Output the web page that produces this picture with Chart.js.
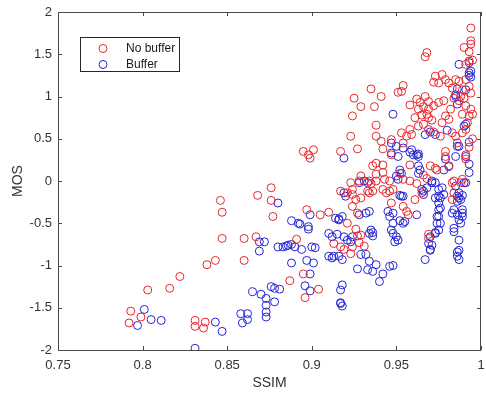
<!DOCTYPE html>
<html>
<head>
<meta charset="utf-8">
<script src="https://cdn.jsdelivr.net/npm/chart.js@4/dist/chart.umd.min.js"></script>
<style>
  html, body { margin: 0; padding: 0; background: #fff; overflow: hidden; }
  #wrap { width: 486px; height: 396px; position: relative; }
</style>
</head>
<body>
<div id="wrap"><canvas id="chart"></canvas></div>
<script>
// axis ticks
const ssimTicks = [0.75, 0.8, 0.85, 0.9, 0.95, 1];
const mosTicks = [-2, -1.5, -1, -0.5, 0, 0.5, 1, 1.5, 2];

// No buffer (red)
const noBufferSsim = [
  0.846, 0.847, 0.847, 0.860, 0.860, 0.843, 0.838, 0.822, 0.816, 0.803,
  0.793, 0.792, 0.799, 0.831, 0.831, 0.837, 0.836, 0.868, 0.876, 0.877,
  0.867, 0.891, 0.897, 0.905, 0.910, 0.887, 0.895, 0.904, 0.896, 0.913,
  0.921, 0.924, 0.927, 0.928, 0.931, 0.923, 0.926, 0.919, 0.969, 0.969,
  0.924, 0.927, 0.926, 0.929, 0.929, 0.917, 0.876, 0.994, 0.994, 0.994,
  0.990, 0.993, 0.968, 0.967, 0.993, 0.995, 0.991, 0.973, 0.977, 0.979,
  0.975, 0.972, 0.981, 0.985, 0.987, 0.991, 0.993, 0.989, 0.983, 0.994,
  0.951, 0.954, 0.953, 0.935, 0.925, 0.929, 0.924, 0.937, 0.941, 0.962,
  0.964, 0.967, 0.969, 0.966, 0.969, 0.972, 0.975, 0.963, 0.968, 0.969,
  0.965, 0.938, 0.938, 0.923, 0.927, 0.941, 0.947, 0.942, 0.947, 0.953,
  0.956, 0.954, 0.958, 0.959, 0.963, 0.966, 0.969, 0.972, 0.979, 0.981,
  0.977, 0.976, 0.983, 0.985, 0.989, 0.991, 0.989, 0.993, 0.994, 0.991,
  0.995, 0.992, 0.991, 0.991, 0.979, 0.979, 0.974, 0.981, 0.984, 0.989,
  0.970, 0.973, 0.966, 0.968, 0.958, 0.952, 0.954, 0.958, 0.962, 0.936,
  0.938, 0.942, 0.938, 0.942, 0.943, 0.946, 0.938, 0.923, 0.924, 0.929,
  0.928, 0.934, 0.935, 0.917, 0.921, 0.924, 0.933, 0.934, 0.936, 0.942,
  0.944, 0.946, 0.895, 0.898, 0.901, 0.899, 0.917, 0.948, 0.947, 0.954,
  0.956, 0.957, 0.961, 0.965, 0.983, 0.984, 0.983, 0.988, 0.987, 0.990,
  0.986, 0.993, 0.995, 0.982, 0.958, 0.961, 0.971, 0.978, 0.984, 0.988
];
const noBufferMos = [
  -0.23, -0.37, -0.68, -0.68, -0.94, -0.94, -0.99, -1.13, -1.27, -1.29,
  -1.54, -1.68, -1.61, -1.65, -1.72, -1.67, -1.74, -0.17, -0.23, -0.42,
  -0.66, -0.69, -0.34, -0.40, -0.37, -1.18, -1.10, -1.28, -1.38, -0.74,
  -0.50, -0.78, -0.65, -0.73, -0.77, -0.86, -0.57, -0.81, -0.63, -0.68,
  -0.30, -0.38, -0.22, -0.20, -0.64, -0.78, -0.08, 1.81, 1.66, 1.62,
  1.58, 1.53, 1.52, 1.47, 1.42, 1.43, 1.38, 1.24, 1.26, 1.20,
  1.16, 1.17, 1.16, 1.20, 1.18, 1.20, 1.12, 1.08, 1.10, 1.04,
  1.05, 1.13, 1.06, 1.09, 0.98, 0.88, 0.77, 0.88, 1.00, 0.97,
  0.93, 1.00, 0.94, 0.88, 0.85, 0.89, 0.93, 0.85, 0.79, 0.75,
  0.78, 0.66, 0.53, 0.53, 0.38, 0.47, 0.49, 0.38, 0.31, 0.57,
  0.53, 0.45, 0.61, 0.55, 0.65, 0.67, 0.61, 0.58, 0.77, 0.73,
  0.69, 0.53, 0.57, 0.53, 0.57, 0.61, 0.79, 0.77, 0.85, 0.89,
  0.79, 0.69, 0.31, 0.26, 0.35, 0.29, 0.13, 0.18, 0.00, 0.02,
  0.18, 0.15, 0.07, 0.03, 0.19, 0.09, 0.02, 0.00, -0.03, 0.18,
  0.21, 0.19, 0.08, 0.10, 0.02, 0.00, 0.00, -0.02, -0.10, 0.06,
  0.00, 0.00, -0.03, -0.12, -0.14, -0.16, -0.12, -0.14, -0.12, -0.10,
  -0.14, -0.12, 0.35, 0.31, 0.37, 0.27, 0.35, -0.10, -0.26, -0.30,
  -0.36, -0.40, -0.22, -0.14, -0.22, -0.14, -0.02, -0.02, 0.95, 0.98,
  0.45, 0.40, 0.50, 0.85, 0.90, 0.75, 0.72, 0.95, 0.98, 1.00
];

// Buffer (blue)
const bufferSsim = [
  0.801, 0.797, 0.805, 0.811, 0.831, 0.843, 0.847, 0.858, 0.859, 0.862,
  0.862, 0.880, 0.888, 0.893, 0.898, 0.898, 0.899, 0.869, 0.869, 0.872,
  0.880, 0.883, 0.885, 0.886, 0.888, 0.890, 0.894, 0.900, 0.902, 0.888,
  0.897, 0.901, 0.899, 0.896, 0.899, 0.865, 0.870, 0.873, 0.873, 0.873,
  0.873, 0.876, 0.878, 0.881, 0.878, 0.910, 0.913, 0.915, 0.916, 0.918,
  0.918, 0.917, 0.918, 0.917, 0.918, 0.917, 0.927, 0.929, 0.932, 0.933,
  0.934, 0.936, 0.938, 0.940, 0.942, 0.946, 0.948, 0.936, 0.936, 0.948,
  0.950, 0.949, 0.948, 0.952, 0.954, 0.945, 0.946, 0.952, 0.962, 0.967,
  0.970, 0.971, 0.973, 0.974, 0.975, 0.975, 0.976, 0.983, 0.984, 0.986,
  0.987, 0.987, 0.988, 0.989, 0.989, 0.986, 0.987, 0.892, 0.914, 0.916,
  0.919, 0.921, 0.923, 0.924, 0.910, 0.912, 0.928, 0.932, 0.934, 0.928,
  0.933, 0.934, 0.935, 0.912, 0.916, 0.954, 0.948, 0.947, 0.951, 0.955,
  0.965, 0.966, 0.971, 0.973, 0.975, 0.976, 0.974, 0.976, 0.975, 0.973,
  0.970, 0.969, 0.970, 0.984, 0.986, 0.987, 0.989, 0.988, 0.987, 0.985,
  0.991, 0.984, 0.987, 0.986, 0.987, 0.993, 0.994, 0.993, 0.986, 0.985,
  0.986, 0.991, 0.948, 0.990, 0.991, 0.987, 0.993, 0.991, 0.993, 0.993,
  0.947, 0.950, 0.954, 0.959, 0.962, 0.963, 0.967, 0.970, 0.973, 0.980,
  0.986, 0.979, 0.981, 0.978, 0.985, 0.971, 0.973, 0.977, 0.975, 0.990,
  0.986, 0.989, 0.963, 0.964, 0.963, 0.968, 0.966, 0.950, 0.952, 0.951,
  0.953, 0.947, 0.951, 0.958, 0.960, 0.963, 0.931, 0.919, 0.920, 0.953,
  0.975, 0.978, 0.919, 0.993, 0.994, 0.985
];
const bufferMos = [
  -1.52, -1.71, -1.64, -1.65, -1.98, -1.67, -1.78, -1.57, -1.68, -1.57,
  -1.64, -0.26, -0.47, -0.51, -0.54, -0.57, -0.40, -0.72, -0.83, -0.72,
  -0.78, -0.78, -0.77, -0.76, -0.75, -0.78, -0.81, -0.78, -0.79, -0.97,
  -0.94, -0.97, -1.10, -1.24, -1.30, -1.31, -1.34, -1.39, -1.47, -1.55,
  -1.61, -1.25, -1.27, -1.28, -1.43, -0.89, -0.89, -0.63, -0.45, -0.42,
  -0.93, -1.29, -1.23, -1.44, -1.48, -1.45, -1.04, -0.87, -0.87, -1.05,
  -0.95, -1.07, -0.99, -1.19, -1.10, -1.01, -1.00, -0.61, -0.65, -0.62,
  -0.66, -0.72, -0.50, -0.47, -0.50, -0.36, -0.42, -0.17, -0.40, -0.93,
  -0.81, -0.76, -0.61, -0.50, -0.42, -0.34, -0.20, -0.38, -0.60, -0.84,
  -0.93, -0.70, -0.50, -0.34, -0.42, -0.24, -0.20, -0.50, -0.44, -0.46,
  -0.66, -0.70, -0.72, -0.66, -0.62, -0.66, -0.40, -0.38, -0.36, -0.02,
  -0.02, -0.62, -0.58, -0.91, -0.89, -0.18, -0.38, -0.58, -0.70, -0.48,
  -0.10, -0.16, -0.02, -0.20, -0.26, -0.32, -0.42, -0.50, -0.58, -0.62,
  -0.66, -0.74, -0.82, -0.34, -0.40, -0.46, -0.38, -0.22, -0.14, -0.06,
  -0.02, -0.56, -0.82, -0.89, 1.38, 1.28, 1.23, 1.25, 1.09, 1.00,
  0.91, 1.08, 0.79, 0.65, 0.67, 0.41, 0.46, 0.29, 0.20, 0.10,
  0.45, 0.41, 0.39, 0.37, 0.31, 0.32, 0.55, 0.58, 0.55, 0.60,
  0.41, 0.26, 0.17, 0.13, 0.29, 0.00, -0.02, -0.08, -0.10, -0.02,
  -0.18, -0.17, 0.18, 0.13, 0.09, -0.08, -0.12, 0.06, 0.13, 0.02,
  0.09, 0.33, 0.29, 0.34, 0.31, 0.29, 0.00, -0.14, -0.18, -0.18,
  -0.18, -0.16, 0.27, 1.40, 1.30, 1.02
];

const RED = '#e8262a';
const BLUE = '#2424d6';
const AXIS = '#4a4a4a';
const TEXT = '#333333';

const toPoints = (xs, ys) => xs.map((x, i) => ({ x: x, y: ys[i] }));

// MATLAB style box with inward ticks on all four sides
const boxPlugin = {
  id: 'matlabBox',
  afterDatasetsDraw(chart) {
    const { ctx, chartArea: a, scales } = chart;
    const len = 4;
    ctx.save();
    ctx.strokeStyle = AXIS;
    ctx.lineWidth = 1;
    ctx.strokeRect(a.left + 0.5, a.top + 0.5, a.right - a.left - 1, a.bottom - a.top);
    ctx.beginPath();
    ssimTicks.forEach(v => {
      const x = Math.round(scales.x.getPixelForValue(v)) + 0.5;
      ctx.moveTo(x, a.bottom); ctx.lineTo(x, a.bottom - len);
      ctx.moveTo(x, a.top); ctx.lineTo(x, a.top + len);
    });
    mosTicks.forEach(v => {
      const y = Math.round(scales.y.getPixelForValue(v)) + 0.5;
      ctx.moveTo(a.left, y); ctx.lineTo(a.left + len, y);
      ctx.moveTo(a.right, y); ctx.lineTo(a.right - len, y);
    });
    ctx.stroke();
    ctx.restore();
  },
  afterDraw(chart) {
    // legend box in the upper left of the axes
    const { ctx } = chart;
    const bx = 80.5, by = 37.5, bw = 99, bh = 34;
    ctx.save();
    ctx.fillStyle = '#fff';
    ctx.fillRect(bx, by, bw, bh);
    ctx.strokeStyle = '#262626';
    ctx.lineWidth = 1;
    ctx.strokeRect(bx, by, bw, bh);
    ctx.font = '12px "Liberation Sans", Arial, sans-serif';
    ctx.textBaseline = 'middle';
    chart.data.datasets.forEach((ds, i) => {
      const y = by + 11 + i * 16;
      ctx.beginPath();
      ctx.strokeStyle = ds.borderColor;
      ctx.arc(103, y, 4, 0, Math.PI * 2);
      ctx.stroke();
      ctx.fillStyle = '#1a1a1a';
      ctx.fillText(ds.label, 126, y);
    });
    ctx.restore();
  }
};

new Chart(document.getElementById('chart'), {
  type: 'scatter',
  data: {
    datasets: [
      {
        label: 'No buffer',
        data: toPoints(noBufferSsim, noBufferMos),
        borderColor: RED,
        backgroundColor: 'rgba(0,0,0,0)',
        borderWidth: 1,
        pointRadius: 4
      },
      {
        label: 'Buffer',
        data: toPoints(bufferSsim, bufferMos),
        borderColor: BLUE,
        backgroundColor: 'rgba(0,0,0,0)',
        borderWidth: 1,
        pointRadius: 4
      }
    ]
  },
  options: {
    responsive: true,
    maintainAspectRatio: false,
    animation: false,
    layout: { padding: { left: 0, right: 1, top: 12, bottom: 0 } },
    plugins: { legend: { display: false }, tooltip: { enabled: false } },
    scales: {
      x: {
        type: 'linear',
        min: 0.75,
        max: 1,
        afterBuildTicks: s => { s.ticks = ssimTicks.map(v => ({ value: v })); },
        afterFit: s => { s.height = 46; s.paddingLeft = 0; s.paddingRight = 0; },
        grid: { display: false, drawTicks: false },
        border: { display: false },
        ticks: {
          padding: 8,
          color: TEXT,
          font: { family: '"Liberation Sans", Arial, sans-serif', size: 13 },
          maxRotation: 0,
          callback: v => String(Number(v.toFixed(2)))
        },
        title: {
          display: true,
          text: 'SSIM',
          color: TEXT,
          font: { family: '"Liberation Sans", Arial, sans-serif', size: 14 },
          padding: { top: 0, bottom: 4 }
        }
      },
      y: {
        type: 'linear',
        min: -2,
        max: 2,
        afterBuildTicks: s => { s.ticks = mosTicks.map(v => ({ value: v })); },
        afterFit: s => { s.width = 58; s.paddingTop = 0; s.paddingBottom = 0; },
        grid: { display: false, drawTicks: false },
        border: { display: false },
        ticks: {
          padding: 6,
          color: TEXT,
          font: { family: '"Liberation Sans", Arial, sans-serif', size: 13 },
          callback: v => String(v)
        },
        title: {
          display: true,
          text: 'MOS',
          color: TEXT,
          font: { family: '"Liberation Sans", Arial, sans-serif', size: 14 },
          padding: { top: 10, bottom: 0 }
        }
      }
    }
  },
  plugins: [boxPlugin]
});
</script>
</body>
</html>
